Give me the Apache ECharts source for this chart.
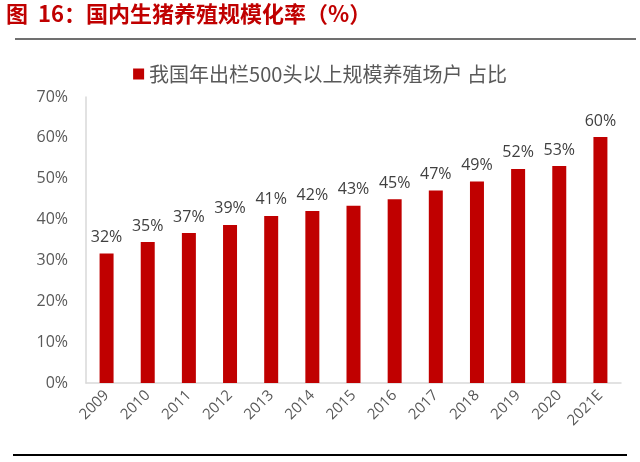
<!DOCTYPE html>
<html>
<head>
<meta charset="utf-8">
<script src="https://cdn.jsdelivr.net/npm/echarts@6/dist/echarts.min.js"></script>
<style>
  html, body { margin: 0; padding: 0; background: #fff; }
  #chart { width: 640px; height: 462px; }
</style>
</head>
<body>
<div id="chart"></div>
<script>
// 年份
const years = ['2009', '2010', '2011', '2012', '2013', '2014', '2015', '2016', '2017', '2018', '2019', '2020', '2021E']
// 规模化率（%）
const shares = [31.7, 34.5, 36.7, 38.7, 40.9, 42.1, 43.4, 45.0, 47.1, 49.3, 52.4, 53.1, 60.2]
const seriesName = '我国年出栏500头以上规模养殖场户 占比'
const titleText = '图  16：国内生猪养殖规模化率（%）'

const barColor = '#C00000'
const textColor = '#595959'
const fontFamily = '"Noto Sans CJK SC", "Open Sans", sans-serif'

const chart = echarts.init(document.getElementById('chart'))

const option = {
  animation: false,
  textStyle: { fontFamily: fontFamily },
  graphic: [
    {
      type: 'text',
      left: 6,
      top: 3,
      style: {
        text: titleText,
        fill: barColor,
        font: 'bold 22px "Noto Sans CJK SC", sans-serif'
      }
    },
    {
      type: 'line',
      shape: { x1: 15, y1: 39, x2: 636, y2: 39 },
      style: { stroke: '#404040', lineWidth: 1.5 }
    },
    {
      type: 'line',
      shape: { x1: 13, y1: 455, x2: 627, y2: 455 },
      style: { stroke: '#000', lineWidth: 2 }
    }
  ],
  legend: {
    top: 59,
    left: 'center',
    itemWidth: 11,
    itemHeight: 11,
    itemGap: 4,
    icon: 'rect',
    textStyle: { color: textColor, fontSize: 20, fontFamily: fontFamily },
    data: [seriesName]
  },
  grid: {
    left: 86,
    right: 19,
    top: 97,
    bottom: 79
  },
  xAxis: {
    type: 'category',
    data: years,
    axisLine: { lineStyle: { color: '#d9d9d9', width: 1.5 } },
    axisTick: { show: false },
    axisLabel: {
      color: textColor,
      fontSize: 15,
      fontFamily: '"Open Sans", sans-serif',
      rotate: 45,
      margin: 10,
      interval: 0
    }
  },
  yAxis: {
    type: 'value',
    min: 0,
    max: 70,
    interval: 10,
    axisLine: { show: true, lineStyle: { color: '#d9d9d9', width: 1.5 } },
    axisTick: { show: false },
    splitLine: { show: false },
    axisLabel: {
      color: textColor,
      fontSize: 16,
      fontFamily: '"Open Sans", sans-serif',
      margin: 18,
      formatter: '{value}%'
    }
  },
  series: [
    {
      name: seriesName,
      type: 'bar',
      barWidth: '34%',
      itemStyle: { color: barColor },
      label: {
        show: true,
        position: 'top',
        distance: 8,
        color: '#404040',
        fontSize: 16,
        fontFamily: '"Open Sans", sans-serif',
        formatter: (p) => Math.round(p.value) + '%'
      },
      data: shares
    }
  ]
}

chart.setOption(option)
</script>
</body>
</html>
